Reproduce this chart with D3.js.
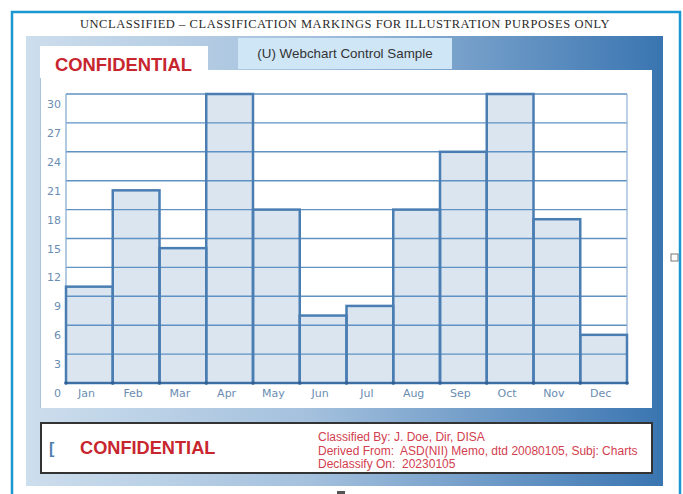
<!DOCTYPE html>
<html>
<head>
<meta charset="utf-8">
<script src="https://cdn.jsdelivr.net/npm/d3@7"></script>
<style>
  html, body { margin: 0; padding: 0; background: #ffffff; }
  svg { display: block; }
</style>
</head>
<body>
<svg id="chart" width="683" height="494"></svg>
<script>
// ---- data ----
const months = ["Jan","Feb","Mar","Apr","May","Jun","Jul","Aug","Sep","Oct","Nov","Dec"];
const values = [10, 20, 14, 30, 18, 7, 8, 18, 24, 30, 17, 5];
const yTicks = [0, 3, 6, 9, 12, 15, 18, 21, 24, 27, 30];
const headerText = "UNCLASSIFIED \u2013 CLASSIFICATION MARKINGS FOR ILLUSTRATION PURPOSES ONLY";
const chartTitle = "(U) Webchart Control Sample";
const markingText = "CONFIDENTIAL";
const authorityLines = [
  "Classified By: J. Doe, Dir, DISA",
  "Derived From:  ASD(NII) Memo, dtd 20080105, Subj: Charts",
  "Declassify On:  20230105"
];

const svg = d3.select("#chart");
const defs = svg.append("defs");
const grad = defs.append("linearGradient").attr("id", "panelGrad")
  .attr("x1", "0%").attr("x2", "100%").attr("y1", "0%").attr("y2", "0%");
grad.append("stop").attr("offset", "0%").attr("stop-color", "#cddeed");
grad.append("stop").attr("offset", "45%").attr("stop-color", "#a3c0dd");
grad.append("stop").attr("offset", "100%").attr("stop-color", "#3a75b1");

// outer frame
svg.append("rect").attr("x", 12).attr("y", 12).attr("width", 668).attr("height", 490)
  .attr("fill", "#ffffff").attr("stroke", "#1b97d3").attr("stroke-width", 2.5);

// header
svg.append("text").attr("x", 345).attr("y", 28).attr("text-anchor", "middle")
  .attr("font-family", "Liberation Serif, Times New Roman, serif")
  .attr("font-size", 12.5).attr("fill", "#2a2a2a").attr("letter-spacing", 0.55)
  .text(headerText);

// gradient panel
svg.append("rect").attr("x", 26).attr("y", 36).attr("width", 637).attr("height", 450)
  .attr("fill", "url(#panelGrad)");

// title tab
svg.append("rect").attr("x", 238).attr("y", 38).attr("width", 214).attr("height", 31)
  .attr("fill", "#cfe6f7");
svg.append("text").attr("x", 345).attr("y", 58).attr("text-anchor", "middle")
  .attr("font-family", "Liberation Sans, Arial, sans-serif").attr("font-size", 13.4)
  .attr("fill", "#333333").text(chartTitle);

// white chart area + tab
svg.append("rect").attr("x", 40).attr("y", 46).attr("width", 168).attr("height", 40)
  .attr("fill", "#ffffff");
svg.append("rect").attr("x", 40).attr("y", 70).attr("width", 612).attr("height", 338)
  .attr("fill", "#ffffff");
svg.append("line").attr("x1", 40.5).attr("x2", 40.5).attr("y1", 78).attr("y2", 408)
  .attr("stroke", "#a9c3dc").attr("stroke-width", 1);

svg.append("text").attr("x", 55).attr("y", 71)
  .attr("font-family", "Liberation Sans, Arial, sans-serif").attr("font-weight", "bold")
  .attr("font-size", 18.4).attr("fill", "#c8262e").text(markingText);

// scales
const x = d3.scaleBand().domain(months).range([66, 627]).padding(0);
const y = d3.scaleLinear().domain([0, 30]).range([383, 94]);

// bar fills
svg.append("g").selectAll("rect").data(values).join("rect")
  .attr("x", (d, i) => x(months[i]))
  .attr("y", d => y(d))
  .attr("width", x.bandwidth())
  .attr("height", d => y(0) - y(d))
  .attr("fill", "#dae5f0");

// gridlines (visible through bars)
svg.append("g").selectAll("line").data(yTicks.filter(d => d > 0)).join("line")
  .attr("x1", 66).attr("x2", 627)
  .attr("y1", d => y(d)).attr("y2", d => y(d))
  .attr("stroke", "#5f92c3").attr("stroke-width", 1.4);
// plot side borders
svg.append("line").attr("x1", 66).attr("x2", 66).attr("y1", y(30)).attr("y2", y(0))
  .attr("stroke", "#7fa7cf").attr("stroke-width", 1.2);
svg.append("line").attr("x1", 627).attr("x2", 627).attr("y1", y(30)).attr("y2", y(0))
  .attr("stroke", "#8fb2d4").attr("stroke-width", 1.2);

// bar outlines
svg.append("g").selectAll("rect").data(values).join("rect")
  .attr("x", (d, i) => x(months[i]))
  .attr("y", d => y(d))
  .attr("width", x.bandwidth())
  .attr("height", d => y(0) - y(d))
  .attr("fill", "none")
  .attr("stroke", "#4a7eb3").attr("stroke-width", 2.5);

// baseline
svg.append("line").attr("x1", 66).attr("x2", 627).attr("y1", y(0)).attr("y2", y(0))
  .attr("stroke", "#3d6fa5").attr("stroke-width", 2);
svg.append("g").selectAll("circle").data(months.concat(["end"])).join("circle")
  .attr("cx", (d, i) => i < months.length ? x(d) : 627)
  .attr("cy", y(0)).attr("r", 1.8).attr("fill", "#2f5f94");

// y labels
svg.append("g").selectAll("text").data(yTicks).join("text")
  .attr("x", 61).attr("y", d => y(d) + 14)
  .attr("text-anchor", "end")
  .attr("font-family", "DejaVu Sans, Verdana, sans-serif").attr("font-size", 11)
  .attr("fill", "#6a8db2").text(d => d);

// x labels
svg.append("g").selectAll("text").data(months).join("text")
  .attr("x", d => x(d) + x.bandwidth() / 2 - 3).attr("y", 397)
  .attr("text-anchor", "middle")
  .attr("font-family", "DejaVu Sans, Verdana, sans-serif").attr("font-size", 11)
  .attr("fill", "#6a8db2").text(d => d);

// bottom marking box
svg.append("rect").attr("x", 41).attr("y", 423).attr("width", 611).attr("height", 50)
  .attr("fill", "#ffffff").attr("stroke", "#333333").attr("stroke-width", 2);
svg.append("text").attr("x", 49).attr("y", 454)
  .attr("font-family", "Liberation Sans, Arial, sans-serif").attr("font-size", 16)
  .attr("font-weight", "bold").attr("fill", "#4f7fb0").text("[");
svg.append("text").attr("x", 80).attr("y", 454)
  .attr("font-family", "Liberation Sans, Arial, sans-serif").attr("font-weight", "bold")
  .attr("font-size", 18.2).attr("fill", "#c8262e").text(markingText);
svg.append("g").selectAll("text").data(authorityLines).join("text")
  .attr("x", 318).attr("y", (d, i) => 441 + i * 13.5)
  .attr("font-family", "Liberation Sans, Arial, sans-serif").attr("font-size", 12)
  .attr("fill", "#d2404f").attr("xml:space", "preserve").style("white-space", "pre")
  .text(d => d);

// small artifacts at edges
svg.append("rect").attr("x", 671).attr("y", 254).attr("width", 7).attr("height", 7)
  .attr("fill", "#ffffff").attr("stroke", "#777777").attr("stroke-width", 1);
svg.append("rect").attr("x", 337).attr("y", 491).attr("width", 8).attr("height", 3)
  .attr("fill", "#555555");
</script>
</body>
</html>
